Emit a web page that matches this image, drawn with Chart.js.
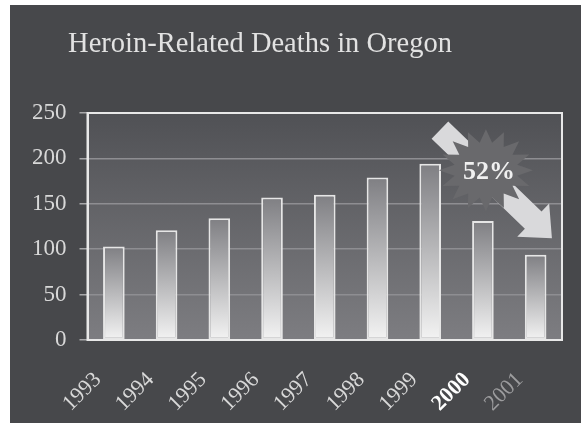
<!DOCTYPE html>
<html lang="en">
<head>
<meta charset="UTF-8">
<title>Heroin-Related Deaths in Oregon</title>
<script src="https://cdn.jsdelivr.net/npm/chart.js"></script>
<style>
  html, body { margin: 0; padding: 0; background: #fff; }
  .wrap { position: absolute; left: 10px; top: 5px; width: 571px; height: 418px; }
</style>
</head>
<body>
<div class="wrap"><canvas id="deaths"></canvas></div>
<script>
// data
const years = ['1993', '1994', '1995', '1996', '1997', '1998', '1999', '2000', '2001'];
const deaths = [103, 121, 134, 157, 160, 179, 194, 131, 94];
const yTicks = [0, 50, 100, 150, 200, 250];
const chartTitle = 'Heroin-Related Deaths in Oregon';
const dropLabel = '52%';

const SERIF = '"Liberation Serif", "DejaVu Serif", serif';

// dark page + gradient plot area + title
const backdrop = {
    id: 'backdrop',
    beforeDraw(chart) {
        const { ctx, chartArea: a, width, height } = chart;
        ctx.save();
        ctx.fillStyle = '#47484b';
        ctx.fillRect(0, 0, width, height);
        const g = ctx.createLinearGradient(0, a.top, 0, a.bottom);
        g.addColorStop(0, '#505155');
        g.addColorStop(1, '#7d7d81');
        ctx.fillStyle = g;
        ctx.fillRect(a.left, a.top, a.right - a.left, a.bottom - a.top);
        ctx.fillStyle = '#e2e2e2';
        ctx.font = '28.5px ' + SERIF;
        ctx.textAlign = 'center';
        ctx.textBaseline = 'alphabetic';
        ctx.fillText(chartTitle, 250, 47);
        ctx.restore();
    },
    afterDraw(chart) {
        const { ctx, chartArea: a } = chart;
        ctx.save();
        ctx.strokeStyle = '#e8e8e8';
        ctx.lineWidth = 2;
        ctx.strokeRect(a.left, a.top, a.right - a.left, a.bottom - a.top);
        ctx.restore();
    }
};

// starburst + arrow callout
const dropNote = {
    id: 'dropNote',
    afterDatasetsDraw(chart) {
        const { ctx, scales: { x, y } } = chart;
        const cx = x.getPixelForValue(7) + 3;
        const cy = y.getPixelForValue(187);
        ctx.save();

        // arrow
        const tail = [cx - 46, cy - 40], tip = [cx + 66, cy + 68];
        const dx = tip[0] - tail[0], dy = tip[1] - tail[1];
        const len = Math.hypot(dx, dy);
        const ux = dx / len, uy = dy / len, nx = -uy, ny = ux;
        const sw = 12, hw = 23, hl = 26;
        const bx = tip[0] - ux * hl, by = tip[1] - uy * hl;
        ctx.beginPath();
        ctx.moveTo(tail[0] + nx * sw, tail[1] + ny * sw);
        ctx.lineTo(bx + nx * sw, by + ny * sw);
        ctx.lineTo(bx + nx * hw, by + ny * hw);
        ctx.lineTo(tip[0], tip[1]);
        ctx.lineTo(bx - nx * hw, by - ny * hw);
        ctx.lineTo(bx - nx * sw, by - ny * sw);
        ctx.lineTo(tail[0] - nx * sw, tail[1] - ny * sw);
        ctx.closePath();
        ctx.fillStyle = '#d9d9db';
        ctx.fill();

        // starburst
        const pts = 16, rx = 47, ry = 41, inner = 0.68;
        ctx.beginPath();
        for (let i = 0; i < pts * 2; i++) {
            const ang = -Math.PI / 2 + i * Math.PI / pts;
            const f = i % 2 === 0 ? 1 : inner;
            const px = cx + Math.cos(ang) * rx * f;
            const py = cy + Math.sin(ang) * ry * f;
            if (i === 0) ctx.moveTo(px, py); else ctx.lineTo(px, py);
        }
        ctx.closePath();
        ctx.fillStyle = '#69696c';
        ctx.fill();

        ctx.fillStyle = '#f0f0f0';
        ctx.font = 'bold 26px ' + SERIF;
        ctx.textAlign = 'center';
        ctx.textBaseline = 'middle';
        ctx.fillText(dropLabel, cx + 3, cy + 2);
        ctx.restore();
    }
};

const barFill = (c) => {
    const chart = c.chart;
    if (!chart.chartArea) return '#bbbbbb';
    const yS = chart.scales.y;
    const top = yS.getPixelForValue(c.raw);
    const bot = yS.getPixelForValue(0);
    const g = chart.ctx.createLinearGradient(0, top, 0, bot);
    g.addColorStop(0, '#7f7f83');
    g.addColorStop(1, '#f3f3f3');
    return g;
};

new Chart(document.getElementById('deaths'), {
    type: 'bar',
    data: {
        labels: years,
        datasets: [{
            data: deaths,
            backgroundColor: barFill,
            borderColor: '#e6e6e6',
            borderWidth: 2,
            borderSkipped: false,
            categoryPercentage: 1,
            barPercentage: 0.41
        }]
    },
    options: {
        responsive: true,
        maintainAspectRatio: false,
        animation: false,
        layout: { padding: { left: 9, top: 108, right: 19, bottom: 0 } },
        plugins: {
            legend: { display: false },
            title: { display: false },
            tooltip: { enabled: false }
        },
        scales: {
            x: {
                grid: { display: false },
                border: { color: '#e8e8e8', width: 2 },
                afterFit: (s) => { s.paddingLeft = 0; s.paddingRight = 0; s.height = 83; },
                ticks: {
                    maxRotation: 45,
                    minRotation: 45,
                    padding: 19,
                    labelOffset: -16,
                    font: (c) => ({ family: SERIF, size: 22, weight: c.index === 7 ? 'bold' : 'normal' }),
                    color: (c) => c.index === 7 ? '#ffffff' : (c.index === 8 ? '#9c9c9e' : '#d8d8d8')
                }
            },
            y: {
                min: yTicks[0],
                max: yTicks[yTicks.length - 1],
                grid: { color: '#8e8e92', lineWidth: 1.5, tickLength: 8, tickColor: '#a8a8aa' },
                border: { color: '#e8e8e8', width: 2 },
                ticks: {
                    stepSize: yTicks[1] - yTicks[0],
                    padding: 13,
                    color: '#d8d8d8',
                    font: { family: SERIF, size: 23 }
                }
            }
        }
    },
    plugins: [backdrop, dropNote]
});
</script>
</body>
</html>
